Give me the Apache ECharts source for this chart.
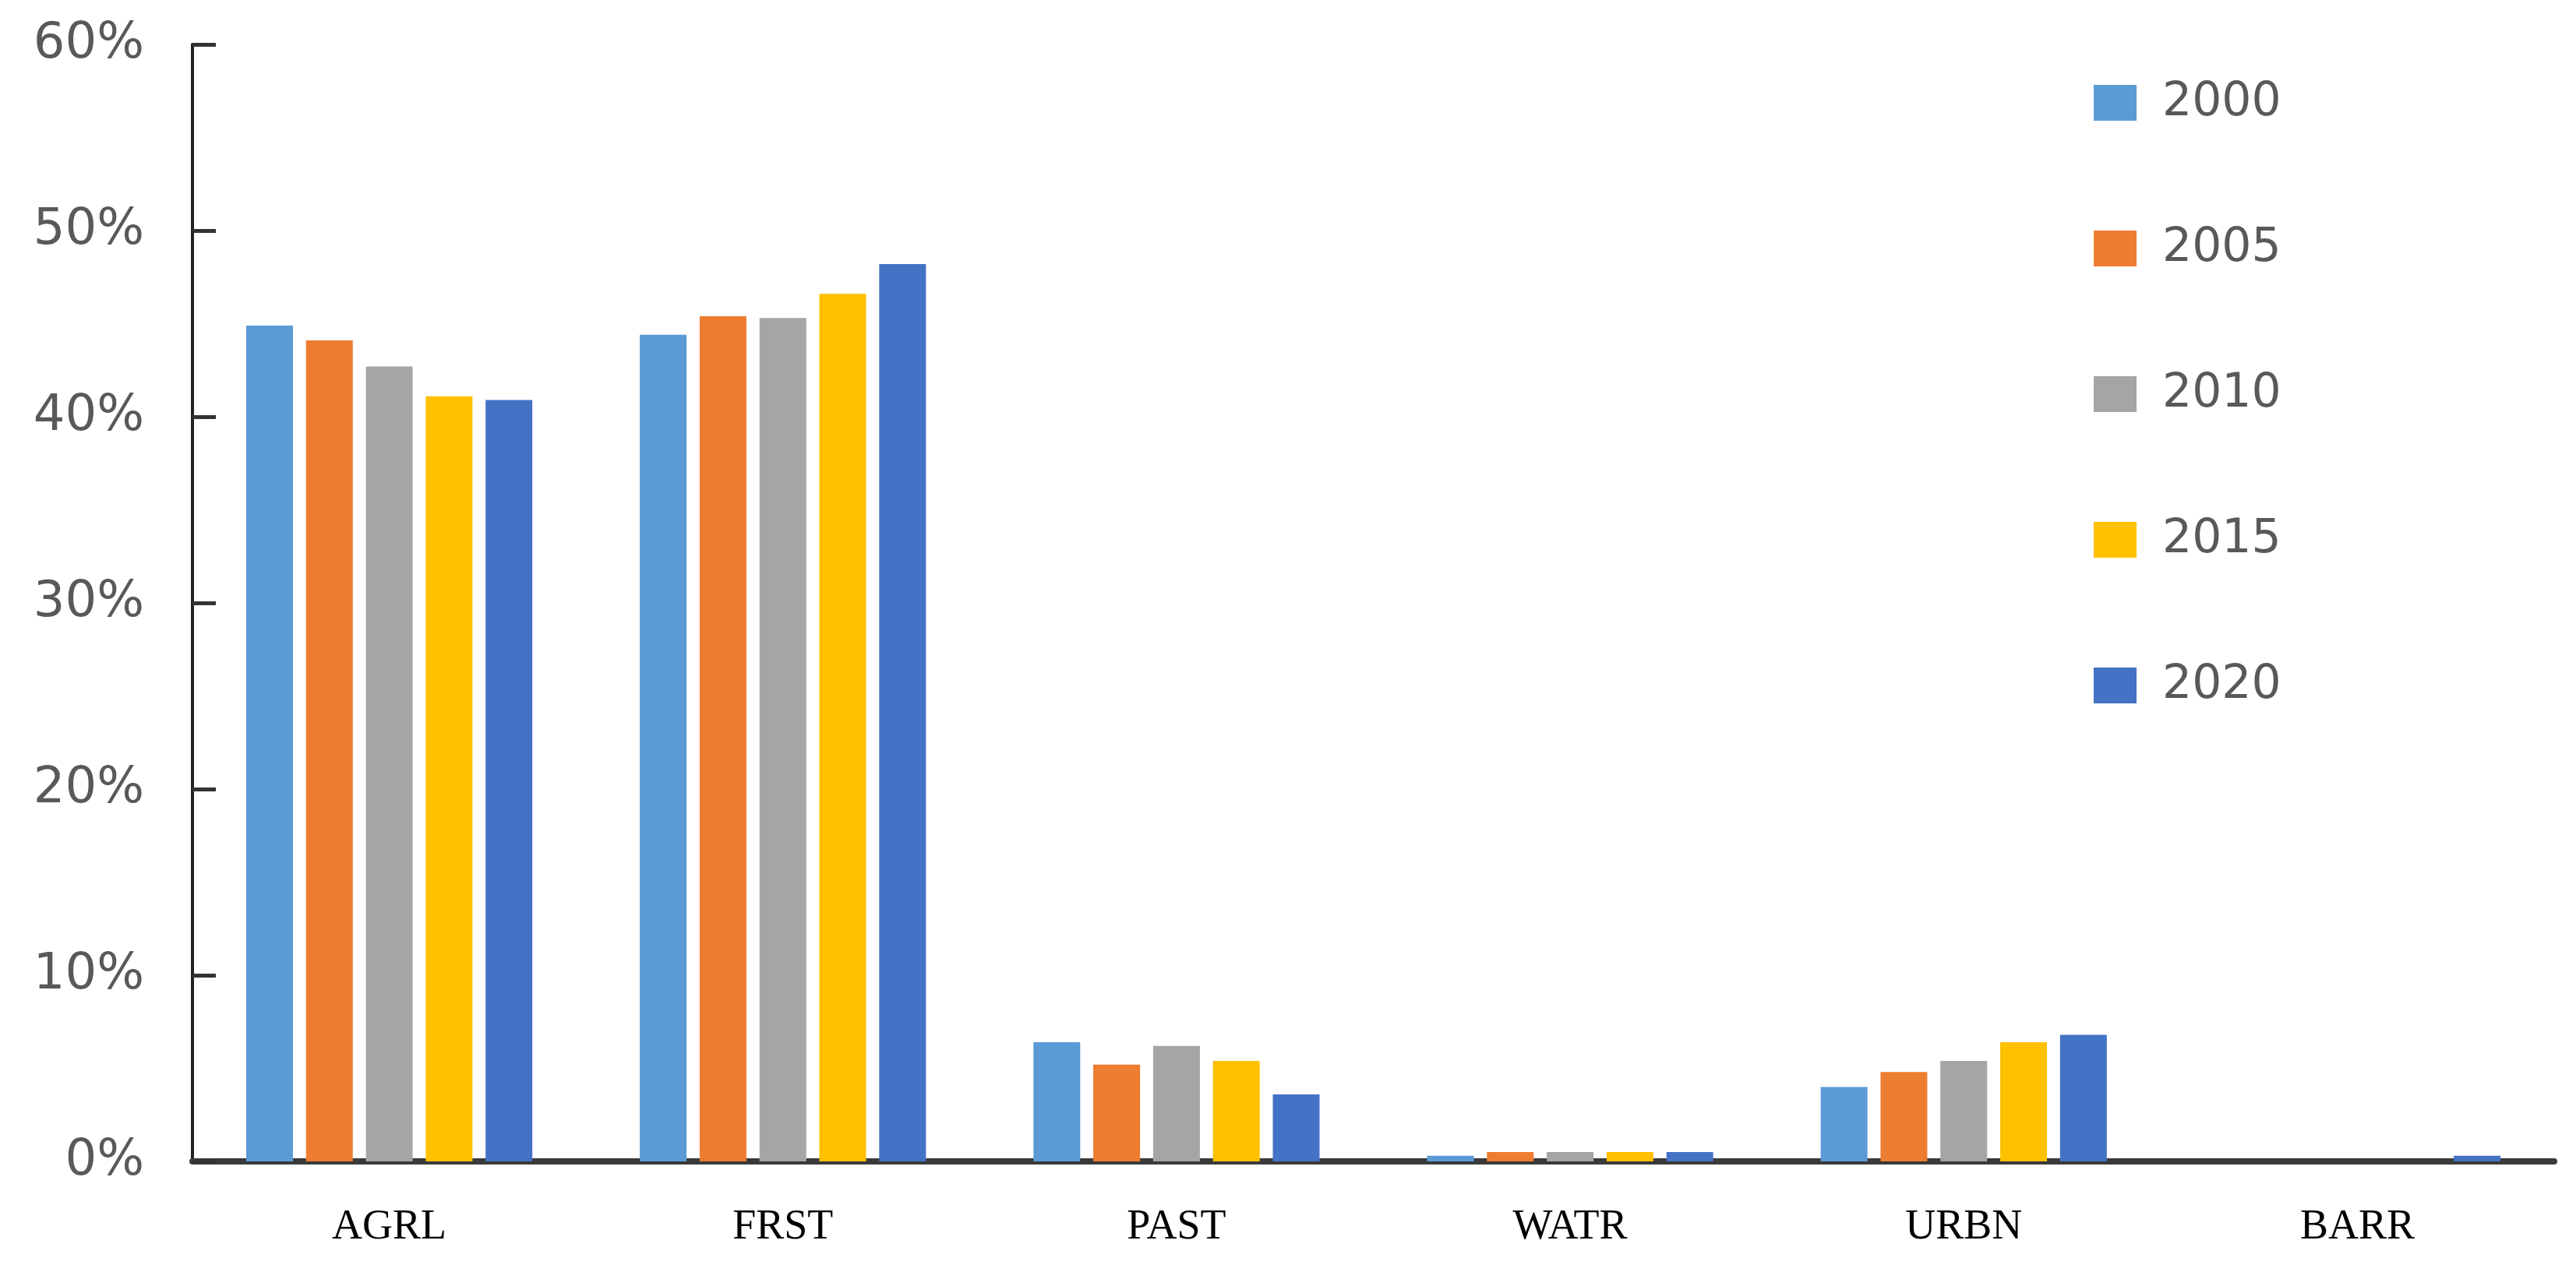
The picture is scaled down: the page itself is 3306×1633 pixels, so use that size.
<!DOCTYPE html>
<html>
<head>
<meta charset="utf-8">
<script src="https://cdn.jsdelivr.net/npm/echarts@6/dist/echarts.min.js"></script>
<style>
  html, body { margin: 0; padding: 0; background: #fff; }
  #chart { width: 3306px; height: 1633px; }
</style>
</head>
<body>
<div id="chart"></div>
<script>
// land cover share (%) by year
const categories = ['AGRL', 'FRST', 'PAST', 'WATR', 'URBN', 'BARR']
const years = ['2000', '2005', '2010', '2015', '2020']
const y2000 = [44.9, 44.4, 6.4, 0.3, 4.0, 0]
const y2005 = [44.1, 45.4, 5.2, 0.5, 4.8, 0]
const y2010 = [42.7, 45.3, 6.2, 0.5, 5.4, 0]
const y2015 = [41.1, 46.6, 5.4, 0.5, 6.4, 0]
const y2020 = [40.9, 48.2, 3.6, 0.5, 6.8, 0.3]
const yearValues = [y2000, y2005, y2010, y2015, y2020]
const colors = ['#5B9BD5', '#ED7D31', '#A5A5A5', '#FFC000', '#4472C4']

const chart = echarts.init(document.getElementById('chart'), null, { renderer: 'canvas' })

chart.setOption({
  animation: false,
  color: colors,
  grid: {
    left: 247,
    right: 28,
    top: 57,
    bottom: 142
  },
  legend: {
    orient: 'vertical',
    left: 2682,
    top: 97,
    itemWidth: 55,
    itemHeight: 46,
    itemGap: 127,
    icon: 'rect',
    textStyle: {
      fontFamily: 'DejaVu Sans',
      fontSize: 60,
      color: '#595959',
      padding: [0, 0, 0, 28]
    },
    data: years
  },
  xAxis: {
    type: 'category',
    data: categories,
    axisLine: {
      lineStyle: { color: '#3a3a3a', width: 8 }
    },
    axisTick: { show: false },
    axisLabel: {
      margin: 58,
      fontFamily: 'Liberation Serif',
      fontSize: 54,
      color: '#000'
    }
  },
  yAxis: {
    type: 'value',
    min: 0,
    max: 60,
    interval: 10,
    splitLine: { show: false },
    axisLine: {
      show: true,
      lineStyle: { color: '#222', width: 4 }
    },
    axisTick: {
      show: true,
      inside: true,
      length: 30,
      lineStyle: { color: '#333', width: 5 }
    },
    axisLabel: {
      margin: 62,
      formatter: '{value}%',
      fontFamily: 'DejaVu Sans',
      fontSize: 64,
      color: '#595959'
    }
  },
  series: years.map((name, i) => ({
    name: name,
    type: 'bar',
    data: yearValues[i],
    barWidth: 60,
    barGap: '28%'
  }))
})
</script>
</body>
</html>
